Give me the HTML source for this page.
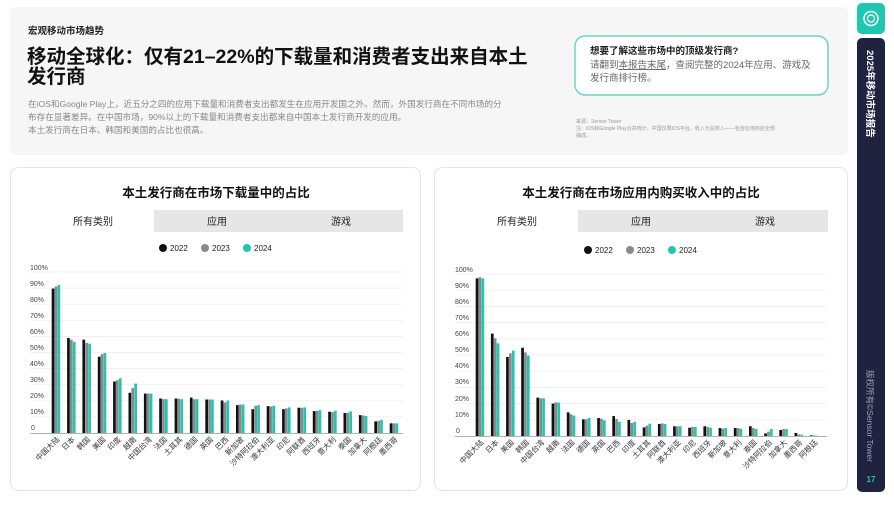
<!DOCTYPE html>
<html><head><meta charset="utf-8"><style>
body{margin:0;width:894px;height:500px;background:#fff;overflow:hidden;font-family:"Liberation Sans","Noto Sans CJK SC",sans-serif;}
svg text{font-family:"Liberation Sans","Noto Sans CJK SC",sans-serif;}
.a{fill:#111}.b{fill:#8a8a8a}.c{fill:#1fc7b0}
.yl{font-size:7px;fill:#444}
.xl{font-size:7.5px;fill:#333}
</style></head><body>
<svg width="894" height="500" viewBox="0 0 894 500" xmlns="http://www.w3.org/2000/svg">
<rect x="10" y="7" width="838" height="148" rx="6" fill="#f6f6f6"/>
<text x="28" y="34" font-size="9.5" font-weight="bold" fill="#222">宏观移动市场趋势</text>
<text x="27" y="63" font-size="19.5" font-weight="bold" fill="#111">移动全球化：仅有21–22%的下载量和消费者支出来自本土</text>
<text x="27" y="83" font-size="19.5" font-weight="bold" fill="#111">发行商</text>
<text x="28" y="107" font-size="8.6" fill="#888">在iOS和Google Play上，近五分之四的应用下载量和消费者支出都发生在应用开发国之外。然而，外国发行商在不同市场的分</text>
<text x="28" y="120" font-size="8.6" fill="#888">布存在显著差异。在中国市场，90%以上的下载量和消费者支出都来自中国本土发行商开发的应用。</text>
<text x="28" y="133" font-size="8.6" fill="#888">本土发行商在日本、韩国和美国的占比也很高。</text>
<rect x="575" y="36" width="253" height="59" rx="10" fill="#fff" stroke="#6fd3c6" stroke-width="1.5"/>
<text x="590" y="54" font-size="9.5" font-weight="bold" fill="#222">想要了解这些市场中的顶级发行商?</text>
<text x="590" y="68" font-size="9.5" fill="#666">请翻到<tspan text-decoration="underline">本报告末尾</tspan>，查阅完整的2024年应用、游戏及</text>
<text x="590" y="81" font-size="9.5" fill="#666">发行商排行榜。</text>
<text x="576" y="123" font-size="5" fill="#999">来源：Sensor Tower</text>
<text x="576" y="130" font-size="5" fill="#999">注：iOS和Google Play合并统计，中国仅限iOS平台。收入为总收入——包含应用商店全部</text>
<text x="576" y="137" font-size="5" fill="#999">抽成。</text>
<rect x="857" y="3" width="28" height="31" rx="5" fill="#1fc7b0"/>
<circle cx="871" cy="18.5" r="7" fill="none" stroke="#fff" stroke-width="1.5"/>
<circle cx="871" cy="18.5" r="3.5" fill="none" stroke="#fff" stroke-width="1.2"/>
<rect x="857" y="38" width="28" height="454" rx="5" fill="#1f2340"/>
<text transform="translate(867,50) rotate(90)" font-size="9.5" font-weight="bold" fill="#fff">2025年移动市场报告</text>
<text transform="translate(867,370) rotate(90)" font-size="8.5" fill="#9aa0b5">版权所有©Sensor Tower</text>
<text x="871" y="482" font-size="8" font-weight="bold" fill="#1fc7b0" text-anchor="middle">17</text>

<!-- left card -->
<rect x="10.5" y="167.5" width="410" height="323" rx="8" fill="#fff" stroke="#e4e4e4"/>
<text x="216" y="197" font-size="12.5" font-weight="bold" fill="#111" text-anchor="middle">本土发行商在市场下载量中的占比</text>
<rect x="32" y="210" width="371" height="22" fill="#e6e6e6"/>
<rect x="32" y="210" width="122" height="22" fill="#fff"/>
<text x="93" y="225" font-size="10" fill="#222" text-anchor="middle">所有类别</text>
<text x="217" y="225" font-size="10" fill="#222" text-anchor="middle">应用</text>
<text x="341" y="225" font-size="10" fill="#222" text-anchor="middle">游戏</text>
<circle cx="163" cy="248" r="4" fill="#111"/><text x="170" y="251" font-size="8" fill="#222">2022</text>
<circle cx="205" cy="248" r="4" fill="#8a8a8a"/><text x="212" y="251" font-size="8" fill="#222">2023</text>
<circle cx="247" cy="248" r="4" fill="#1fc7b0"/><text x="254" y="251" font-size="8" fill="#222">2024</text>
<g stroke="#ececec" stroke-width="0.7">
<line x1="30" x2="403" y1="272" y2="272"/><line x1="30" x2="403" y1="288.1" y2="288.1"/><line x1="30" x2="403" y1="304.2" y2="304.2"/><line x1="30" x2="403" y1="320.3" y2="320.3"/><line x1="30" x2="403" y1="336.4" y2="336.4"/><line x1="30" x2="403" y1="352.5" y2="352.5"/><line x1="30" x2="403" y1="368.6" y2="368.6"/><line x1="30" x2="403" y1="384.7" y2="384.7"/><line x1="30" x2="403" y1="400.8" y2="400.8"/><line x1="30" x2="403" y1="416.9" y2="416.9"/>
</g>
<line x1="30" x2="403" y1="433.5" y2="433.5" stroke="#999" stroke-width="0.8"/>
<g class="yl"><text x="30" y="270">100%</text><text x="30" y="286">90%</text><text x="30" y="302">80%</text><text x="30" y="318">70%</text><text x="30" y="334">60%</text><text x="30" y="350">50%</text><text x="30" y="366">40%</text><text x="30" y="382">30%</text><text x="30" y="398">20%</text><text x="30" y="414">10%</text><text x="31" y="430">0</text></g>
<g transform="translate(0,433) scale(1,-1.61)">
<g transform="translate(56,0)"><rect class="a" x="-4.3" width="2.7" height="89.7"/><rect class="b" x="-1.4" width="2.7" height="91"/><rect class="c" x="1.5" width="2.7" height="92"/></g>
<g transform="translate(71.4,0)"><rect class="a" x="-4.3" width="2.7" height="59"/><rect class="b" x="-1.4" width="2.7" height="58"/><rect class="c" x="1.5" width="2.7" height="56.5"/></g>
<g transform="translate(86.7,0)"><rect class="a" x="-4.3" width="2.7" height="58"/><rect class="b" x="-1.4" width="2.7" height="56"/><rect class="c" x="1.5" width="2.7" height="55.5"/></g>
<g transform="translate(102.1,0)"><rect class="a" x="-4.3" width="2.7" height="47.4"/><rect class="b" x="-1.4" width="2.7" height="49"/><rect class="c" x="1.5" width="2.7" height="49.7"/></g>
<g transform="translate(117.4,0)"><rect class="a" x="-4.3" width="2.7" height="32"/><rect class="b" x="-1.4" width="2.7" height="32.8"/><rect class="c" x="1.5" width="2.7" height="34"/></g>
<g transform="translate(132.8,0)"><rect class="a" x="-4.3" width="2.7" height="25"/><rect class="b" x="-1.4" width="2.7" height="28"/><rect class="c" x="1.5" width="2.7" height="30.7"/></g>
<g transform="translate(148.2,0)"><rect class="a" x="-4.3" width="2.7" height="24.5"/><rect class="b" x="-1.4" width="2.7" height="24.5"/><rect class="c" x="1.5" width="2.7" height="24.5"/></g>
<g transform="translate(163.5,0)"><rect class="a" x="-4.3" width="2.7" height="21.4"/><rect class="b" x="-1.4" width="2.7" height="21"/><rect class="c" x="1.5" width="2.7" height="21"/></g>
<g transform="translate(178.9,0)"><rect class="a" x="-4.3" width="2.7" height="21.4"/><rect class="b" x="-1.4" width="2.7" height="21.4"/><rect class="c" x="1.5" width="2.7" height="21"/></g>
<g transform="translate(194.2,0)"><rect class="a" x="-4.3" width="2.7" height="22"/><rect class="b" x="-1.4" width="2.7" height="21"/><rect class="c" x="1.5" width="2.7" height="21"/></g>
<g transform="translate(209.6,0)"><rect class="a" x="-4.3" width="2.7" height="20.8"/><rect class="b" x="-1.4" width="2.7" height="20.8"/><rect class="c" x="1.5" width="2.7" height="20.8"/></g>
<g transform="translate(225,0)"><rect class="a" x="-4.3" width="2.7" height="20.2"/><rect class="b" x="-1.4" width="2.7" height="19"/><rect class="c" x="1.5" width="2.7" height="20.2"/></g>
<g transform="translate(240.3,0)"><rect class="a" x="-4.3" width="2.7" height="17.3"/><rect class="b" x="-1.4" width="2.7" height="17.7"/><rect class="c" x="1.5" width="2.7" height="17.7"/></g>
<g transform="translate(255.7,0)"><rect class="a" x="-4.3" width="2.7" height="14.8"/><rect class="b" x="-1.4" width="2.7" height="16.9"/><rect class="c" x="1.5" width="2.7" height="17.3"/></g>
<g transform="translate(271,0)"><rect class="a" x="-4.3" width="2.7" height="16.7"/><rect class="b" x="-1.4" width="2.7" height="16.5"/><rect class="c" x="1.5" width="2.7" height="16.9"/></g>
<g transform="translate(286.4,0)"><rect class="a" x="-4.3" width="2.7" height="14.8"/><rect class="b" x="-1.4" width="2.7" height="15.3"/><rect class="c" x="1.5" width="2.7" height="15.9"/></g>
<g transform="translate(301.8,0)"><rect class="a" x="-4.3" width="2.7" height="15.7"/><rect class="b" x="-1.4" width="2.7" height="15.7"/><rect class="c" x="1.5" width="2.7" height="15.9"/></g>
<g transform="translate(317.1,0)"><rect class="a" x="-4.3" width="2.7" height="13.6"/><rect class="b" x="-1.4" width="2.7" height="13.8"/><rect class="c" x="1.5" width="2.7" height="14.2"/></g>
<g transform="translate(332.5,0)"><rect class="a" x="-4.3" width="2.7" height="13.2"/><rect class="b" x="-1.4" width="2.7" height="13"/><rect class="c" x="1.5" width="2.7" height="13.8"/></g>
<g transform="translate(347.8,0)"><rect class="a" x="-4.3" width="2.7" height="12.4"/><rect class="b" x="-1.4" width="2.7" height="12.6"/><rect class="c" x="1.5" width="2.7" height="13.4"/></g>
<g transform="translate(363.2,0)"><rect class="a" x="-4.3" width="2.7" height="11.1"/><rect class="b" x="-1.4" width="2.7" height="10.9"/><rect class="c" x="1.5" width="2.7" height="10.5"/></g>
<g transform="translate(378.6,0)"><rect class="a" x="-4.3" width="2.7" height="7.2"/><rect class="b" x="-1.4" width="2.7" height="7.6"/><rect class="c" x="1.5" width="2.7" height="8.2"/></g>
<g transform="translate(394,0)"><rect class="a" x="-4.3" width="2.7" height="6"/><rect class="b" x="-1.4" width="2.7" height="6"/><rect class="c" x="1.5" width="2.7" height="6"/></g>
</g>
<g class="xl" text-anchor="end">
<text transform="translate(60,440) rotate(-45)">中国大陆</text>
<text transform="translate(75.4,440) rotate(-45)">日本</text>
<text transform="translate(90.7,440) rotate(-45)">韩国</text>
<text transform="translate(106.1,440) rotate(-45)">美国</text>
<text transform="translate(121.4,440) rotate(-45)">印度</text>
<text transform="translate(136.8,440) rotate(-45)">越南</text>
<text transform="translate(152.2,440) rotate(-45)">中国台湾</text>
<text transform="translate(167.5,440) rotate(-45)">法国</text>
<text transform="translate(182.9,440) rotate(-45)">土耳其</text>
<text transform="translate(198.2,440) rotate(-45)">德国</text>
<text transform="translate(213.6,440) rotate(-45)">英国</text>
<text transform="translate(229,440) rotate(-45)">巴西</text>
<text transform="translate(244.3,440) rotate(-45)">新加坡</text>
<text transform="translate(259.7,440) rotate(-45)">沙特阿拉伯</text>
<text transform="translate(275,440) rotate(-45)">澳大利亚</text>
<text transform="translate(290.4,440) rotate(-45)">印尼</text>
<text transform="translate(305.8,440) rotate(-45)">阿联酋</text>
<text transform="translate(321.1,440) rotate(-45)">西班牙</text>
<text transform="translate(336.5,440) rotate(-45)">意大利</text>
<text transform="translate(351.8,440) rotate(-45)">泰国</text>
<text transform="translate(367.2,440) rotate(-45)">加拿大</text>
<text transform="translate(382.6,440) rotate(-45)">阿根廷</text>
<text transform="translate(398,440) rotate(-45)">墨西哥</text>
</g>

<!-- right card -->
<rect x="434.5" y="167.5" width="413" height="323" rx="8" fill="#fff" stroke="#e4e4e4"/>
<text x="641" y="197" font-size="12.5" font-weight="bold" fill="#111" text-anchor="middle">本土发行商在市场应用内购买收入中的占比</text>
<rect x="455" y="210" width="373" height="22" fill="#e6e6e6"/>
<rect x="455" y="210" width="123" height="22" fill="#fff"/>
<text x="517" y="225" font-size="10" fill="#222" text-anchor="middle">所有类别</text>
<text x="641" y="225" font-size="10" fill="#222" text-anchor="middle">应用</text>
<text x="765" y="225" font-size="10" fill="#222" text-anchor="middle">游戏</text>
<circle cx="588" cy="250" r="4" fill="#111"/><text x="595" y="253" font-size="8" fill="#222">2022</text>
<circle cx="630" cy="250" r="4" fill="#8a8a8a"/><text x="637" y="253" font-size="8" fill="#222">2023</text>
<circle cx="672" cy="250" r="4" fill="#1fc7b0"/><text x="679" y="253" font-size="8" fill="#222">2024</text>
<g stroke="#ececec" stroke-width="0.7">
<line x1="455" x2="827" y1="274" y2="274"/><line x1="455" x2="827" y1="290.2" y2="290.2"/><line x1="455" x2="827" y1="306.4" y2="306.4"/><line x1="455" x2="827" y1="322.6" y2="322.6"/><line x1="455" x2="827" y1="338.8" y2="338.8"/><line x1="455" x2="827" y1="355" y2="355"/><line x1="455" x2="827" y1="371.2" y2="371.2"/><line x1="455" x2="827" y1="387.4" y2="387.4"/><line x1="455" x2="827" y1="403.6" y2="403.6"/><line x1="455" x2="827" y1="419.8" y2="419.8"/>
</g>
<line x1="455" x2="827" y1="436.5" y2="436.5" stroke="#999" stroke-width="0.8"/>
<g class="yl"><text x="455" y="272">100%</text><text x="455" y="288">90%</text><text x="455" y="304">80%</text><text x="455" y="320">70%</text><text x="455" y="336">60%</text><text x="455" y="352">50%</text><text x="455" y="368">40%</text><text x="455" y="384">30%</text><text x="455" y="401">20%</text><text x="455" y="417">10%</text><text x="456" y="433">0</text></g>
<g transform="translate(0,436) scale(1,-1.62)">
<g transform="translate(480,0)"><rect class="a" x="-4.3" width="2.7" height="97.3"/><rect class="b" x="-1.4" width="2.7" height="98"/><rect class="c" x="1.5" width="2.7" height="97.3"/></g>
<g transform="translate(495.2,0)"><rect class="a" x="-4.3" width="2.7" height="63.2"/><rect class="b" x="-1.4" width="2.7" height="60.3"/><rect class="c" x="1.5" width="2.7" height="57.2"/></g>
<g transform="translate(510.4,0)"><rect class="a" x="-4.3" width="2.7" height="48.8"/><rect class="b" x="-1.4" width="2.7" height="51"/><rect class="c" x="1.5" width="2.7" height="52.7"/></g>
<g transform="translate(525.5,0)"><rect class="a" x="-4.3" width="2.7" height="54.5"/><rect class="b" x="-1.4" width="2.7" height="51.6"/><rect class="c" x="1.5" width="2.7" height="49.6"/></g>
<g transform="translate(540.7,0)"><rect class="a" x="-4.3" width="2.7" height="23.7"/><rect class="b" x="-1.4" width="2.7" height="23.3"/><rect class="c" x="1.5" width="2.7" height="23.3"/></g>
<g transform="translate(555.9,0)"><rect class="a" x="-4.3" width="2.7" height="20"/><rect class="b" x="-1.4" width="2.7" height="20.8"/><rect class="c" x="1.5" width="2.7" height="20.6"/></g>
<g transform="translate(571.1,0)"><rect class="a" x="-4.3" width="2.7" height="14.6"/><rect class="b" x="-1.4" width="2.7" height="13.4"/><rect class="c" x="1.5" width="2.7" height="12.6"/></g>
<g transform="translate(586.3,0)"><rect class="a" x="-4.3" width="2.7" height="10.3"/><rect class="b" x="-1.4" width="2.7" height="10.3"/><rect class="c" x="1.5" width="2.7" height="11.1"/></g>
<g transform="translate(601.5,0)"><rect class="a" x="-4.3" width="2.7" height="11.1"/><rect class="b" x="-1.4" width="2.7" height="10.7"/><rect class="c" x="1.5" width="2.7" height="9.7"/></g>
<g transform="translate(616.6,0)"><rect class="a" x="-4.3" width="2.7" height="12.3"/><rect class="b" x="-1.4" width="2.7" height="10.5"/><rect class="c" x="1.5" width="2.7" height="8.8"/></g>
<g transform="translate(631.8,0)"><rect class="a" x="-4.3" width="2.7" height="9.9"/><rect class="b" x="-1.4" width="2.7" height="8"/><rect class="c" x="1.5" width="2.7" height="8.8"/></g>
<g transform="translate(647,0)"><rect class="a" x="-4.3" width="2.7" height="5.3"/><rect class="b" x="-1.4" width="2.7" height="6.4"/><rect class="c" x="1.5" width="2.7" height="7.6"/></g>
<g transform="translate(662.2,0)"><rect class="a" x="-4.3" width="2.7" height="7.4"/><rect class="b" x="-1.4" width="2.7" height="7.8"/><rect class="c" x="1.5" width="2.7" height="7.4"/></g>
<g transform="translate(677.4,0)"><rect class="a" x="-4.3" width="2.7" height="6"/><rect class="b" x="-1.4" width="2.7" height="6"/><rect class="c" x="1.5" width="2.7" height="6"/></g>
<g transform="translate(692.5,0)"><rect class="a" x="-4.3" width="2.7" height="5.1"/><rect class="b" x="-1.4" width="2.7" height="5.6"/><rect class="c" x="1.5" width="2.7" height="5.6"/></g>
<g transform="translate(707.7,0)"><rect class="a" x="-4.3" width="2.7" height="6"/><rect class="b" x="-1.4" width="2.7" height="5.6"/><rect class="c" x="1.5" width="2.7" height="5.1"/></g>
<g transform="translate(722.9,0)"><rect class="a" x="-4.3" width="2.7" height="4.9"/><rect class="b" x="-1.4" width="2.7" height="4.5"/><rect class="c" x="1.5" width="2.7" height="4.9"/></g>
<g transform="translate(738.1,0)"><rect class="a" x="-4.3" width="2.7" height="4.9"/><rect class="b" x="-1.4" width="2.7" height="4.9"/><rect class="c" x="1.5" width="2.7" height="4.5"/></g>
<g transform="translate(753.3,0)"><rect class="a" x="-4.3" width="2.7" height="6"/><rect class="b" x="-1.4" width="2.7" height="4.9"/><rect class="c" x="1.5" width="2.7" height="4.3"/></g>
<g transform="translate(768.5,0)"><rect class="a" x="-4.3" width="2.7" height="1.6"/><rect class="b" x="-1.4" width="2.7" height="2.7"/><rect class="c" x="1.5" width="2.7" height="4.3"/></g>
<g transform="translate(783.6,0)"><rect class="a" x="-4.3" width="2.7" height="3.7"/><rect class="b" x="-1.4" width="2.7" height="4.3"/><rect class="c" x="1.5" width="2.7" height="4.3"/></g>
<g transform="translate(798.8,0)"><rect class="a" x="-4.3" width="2.7" height="1.9"/><rect class="b" x="-1.4" width="2.7" height="1"/><rect class="c" x="1.5" width="2.7" height="0.8"/></g>
<g transform="translate(814,0)"><rect class="a" x="-4.3" width="2.7" height="0.4"/><rect class="b" x="-1.4" width="2.7" height="0.4"/><rect class="c" x="1.5" width="2.7" height="0.2"/></g>
</g>
<g class="xl" text-anchor="end">
<text transform="translate(484,443) rotate(-45)">中国大陆</text>
<text transform="translate(499.2,443) rotate(-45)">日本</text>
<text transform="translate(514.4,443) rotate(-45)">美国</text>
<text transform="translate(529.5,443) rotate(-45)">韩国</text>
<text transform="translate(544.7,443) rotate(-45)">中国台湾</text>
<text transform="translate(559.9,443) rotate(-45)">越南</text>
<text transform="translate(575.1,443) rotate(-45)">法国</text>
<text transform="translate(590.3,443) rotate(-45)">德国</text>
<text transform="translate(605.5,443) rotate(-45)">英国</text>
<text transform="translate(620.6,443) rotate(-45)">巴西</text>
<text transform="translate(635.8,443) rotate(-45)">印度</text>
<text transform="translate(651,443) rotate(-45)">土耳其</text>
<text transform="translate(666.2,443) rotate(-45)">阿联酋</text>
<text transform="translate(681.4,443) rotate(-45)">澳大利亚</text>
<text transform="translate(696.5,443) rotate(-45)">印尼</text>
<text transform="translate(711.7,443) rotate(-45)">西班牙</text>
<text transform="translate(726.9,443) rotate(-45)">新加坡</text>
<text transform="translate(742.1,443) rotate(-45)">意大利</text>
<text transform="translate(757.3,443) rotate(-45)">泰国</text>
<text transform="translate(772.5,443) rotate(-45)">沙特阿拉伯</text>
<text transform="translate(787.6,443) rotate(-45)">加拿大</text>
<text transform="translate(802.8,443) rotate(-45)">墨西哥</text>
<text transform="translate(818,443) rotate(-45)">阿根廷</text>
</g>
</svg>
</body></html>
